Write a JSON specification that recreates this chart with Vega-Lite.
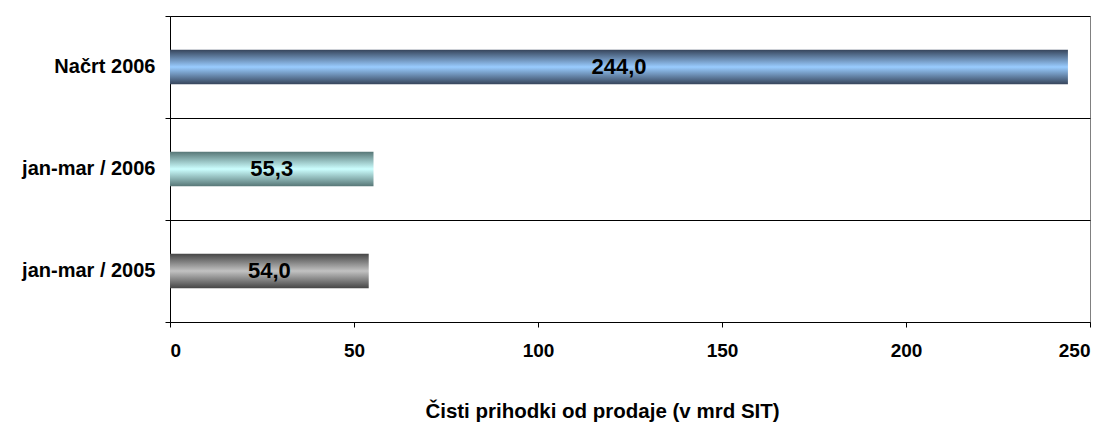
{
  "$schema": "https://vega.github.io/schema/vega-lite/v6.json",
  "autosize": {"type": "none"},
  "width": 920,
  "height": 306,
  "padding": {"left": 170, "top": 16, "right": 19, "bottom": 103},
  "background": "white",
  "config": {
    "font": "Liberation Sans",
    "view": {"stroke": "#808080", "strokeWidth": 1},
    "locale": {"number": {"decimal": ",", "thousands": ".", "grouping": [3], "currency": ["", " SIT"]}}
  },
  "data": {
    "values": [
      {"kategorija": "Načrt 2006", "vrednost": 244.0},
      {"kategorija": "jan-mar / 2006", "vrednost": 55.3},
      {"kategorija": "jan-mar / 2005", "vrednost": 54.0}
    ]
  },
  "encoding": {
    "y": {
      "field": "kategorija",
      "type": "nominal",
      "sort": null,
      "scale": {"paddingInner": 0, "paddingOuter": 0},
      "axis": {
        "title": null,
        "bandPosition": 1,
        "tickExtra": true,
        "grid": true,
        "gridColor": "#000000",
        "gridWidth": 1,
        "gridOpacity": 1,
        "domainColor": "#000000",
        "tickColor": "#000000",
        "tickSize": 5,
        "labelPadding": 10,
        "labelFont": "Liberation Sans",
        "labelFontWeight": "bold",
        "labelFontSize": 20,
        "labelColor": "#000000"
      }
    }
  },
  "layer": [
    {
      "mark": {"type": "bar", "height": {"band": 0.34}},
      "encoding": {
        "x": {
          "field": "vrednost",
          "type": "quantitative",
          "scale": {"domain": [0, 250], "nice": false},
          "axis": {
            "title": "Čisti prihodki od prodaje (v mrd SIT)",
            "values": [0, 50, 100, 150, 200, 250],
            "format": "d",
            "grid": false,
            "domainColor": "#000000",
            "tickColor": "#000000",
            "tickSize": 5,
            "labelPadding": 14,
            "labelFont": "Liberation Sans",
            "labelFontWeight": "bold",
            "labelFontSize": 19,
            "labelColor": "#000000",
            "titleFont": "Liberation Sans",
            "titleFontWeight": "bold",
            "titleFontSize": 20.5,
            "titleColor": "#000000",
            "titlePadding": 41,
            "titleX": 432,
            "titleAlign": "center"
          }
        },
        "color": {
          "condition": [
            {
              "test": "datum.kategorija === 'Načrt 2006'",
              "value": {"gradient": "linear", "x1": 0, "y1": 0, "x2": 0, "y2": 1,
                "stops": [{"offset": 0, "color": "#36445a"}, {"offset": 0.5, "color": "#99ccff"}, {"offset": 1, "color": "#36445a"}]}
            },
            {
              "test": "datum.kategorija === 'jan-mar / 2006'",
              "value": {"gradient": "linear", "x1": 0, "y1": 0, "x2": 0, "y2": 1,
                "stops": [{"offset": 0, "color": "#577676"}, {"offset": 0.5, "color": "#ccffff"}, {"offset": 1, "color": "#577676"}]}
            }
          ],
          "value": {"gradient": "linear", "x1": 0, "y1": 0, "x2": 0, "y2": 1,
            "stops": [{"offset": 0, "color": "#454545"}, {"offset": 0.5, "color": "#c2c2c2"}, {"offset": 1, "color": "#454545"}]}
        }
      }
    },
    {
      "transform": [{"calculate": "datum.vrednost / 2", "as": "sredina"}],
      "mark": {"type": "text", "font": "Liberation Sans", "fontWeight": "bold", "fontSize": 22, "color": "#000000", "align": "center", "baseline": "middle"},
      "encoding": {
        "x": {"field": "sredina", "type": "quantitative"},
        "text": {"field": "vrednost", "type": "quantitative", "format": ".1f"}
      }
    }
  ]
}
